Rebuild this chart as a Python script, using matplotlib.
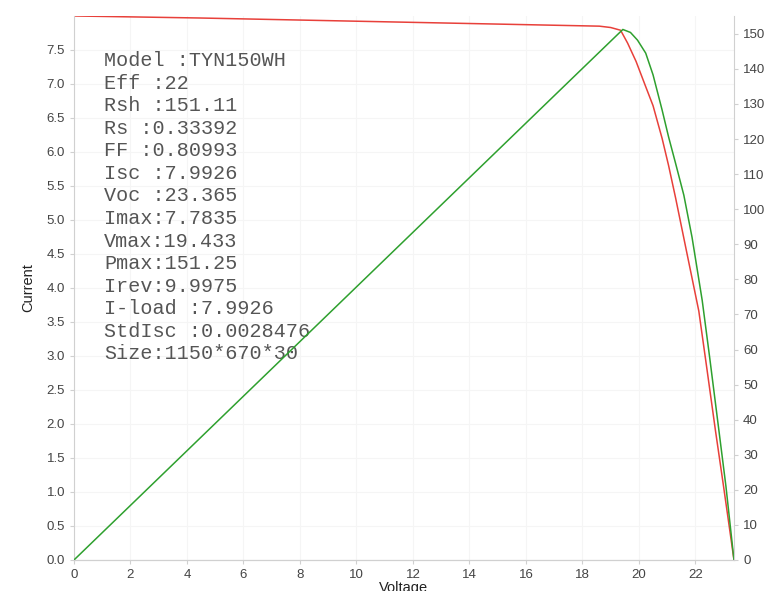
import numpy as np
import matplotlib.pyplot as plt

# I-V curve (red)
iv_voltage = [0.0, 4.45, 11.5, 18.6, 19.0, 19.35, 19.6, 19.9, 20.24, 20.5, 20.82, 21.05, 21.3, 21.65,
              22.12, 22.41, 22.71, 23.0, 23.365]
iv_current = [8.0, 7.97, 7.91, 7.85, 7.83, 7.79, 7.6, 7.33, 6.96, 6.68, 6.2, 5.8, 5.32, 4.61,
              3.66, 2.8, 1.9, 1.07, 0.0]

# P-V curve (green)
pv_voltage = [0.0, 17.88, 19.43, 19.7, 19.95, 20.24, 20.5, 20.82, 21.05, 21.3, 21.59, 21.88, 22.24,
              22.5, 22.83, 23.08, 23.365]
pv_power = [0.0, 139.2, 151.25, 150.4, 148.2, 144.5, 138.3, 128.3, 120.6, 113.0, 104.0, 92.0, 74.0,
            58.0, 37.0, 21.0, 0.0]

info_lines = ["Model :TYN150WH", "Eff :22", "Rsh :151.11", "Rs :0.33392", "FF :0.80993",
              "Isc :7.9926", "Voc :23.365", "Imax:7.7835", "Vmax:19.433", "Pmax:151.25",
              "Irev:9.9975", "I-load :7.9926", "StdIsc :0.0028476", "Size:1150*670*30"]

spine_col = '#d0d0d0'
text_col = '#444444'
plt.rcParams['font.family'] = ['Liberation Sans', 'DejaVu Sans']

fig = plt.figure(figsize=(7.74, 5.91), dpi=100)
ax = fig.add_axes([0.0956, 0.0525, 0.8527, 0.9205])
ax2 = ax.twinx()

ax.plot(iv_voltage, iv_current, color='#e8403a', lw=1.1)
ax2.plot(pv_voltage, pv_power, color='#2ea02e', lw=1.1)

ax.set_xlim(0, 23.365)
ax.set_ylim(0, 8.0)
ax2.set_ylim(0, 155.1)
ax.set_xticks(np.arange(0, 23, 2))
ax.set_yticks(np.arange(0, 7.6, 0.5))
ax.set_yticklabels([f"{v:.1f}" for v in np.arange(0, 7.6, 0.5)])
ax2.set_yticks(np.arange(0, 151, 10))

for a in (ax, ax2):
    a.spines['top'].set_visible(False)
    for s in ('left', 'right', 'bottom'):
        a.spines[s].set_color(spine_col)
    a.tick_params(colors=spine_col, labelcolor=text_col, labelsize=9.5, length=3)
ax2.spines['left'].set_visible(False)
ax.spines['right'].set_visible(False)
ax.grid(True, color='#f5f5f5', lw=0.8)
ax.set_axisbelow(True)

ax.set_xlabel("Voltage", fontsize=10.5, color='#222222', labelpad=0)
ax.set_ylabel("Current", fontsize=10.5, color='#222222', labelpad=8)
ax2.set_ylabel("Power", fontsize=10.5, color='#222222', rotation=270, labelpad=14)

ax.text(0.046, 0.935, "\n".join(info_lines), transform=ax.transAxes, va='top', ha='left',
        family='Liberation Mono', fontsize=14.5, color='#555555', linespacing=1.235)

fig.savefig("out.png", dpi=100)
